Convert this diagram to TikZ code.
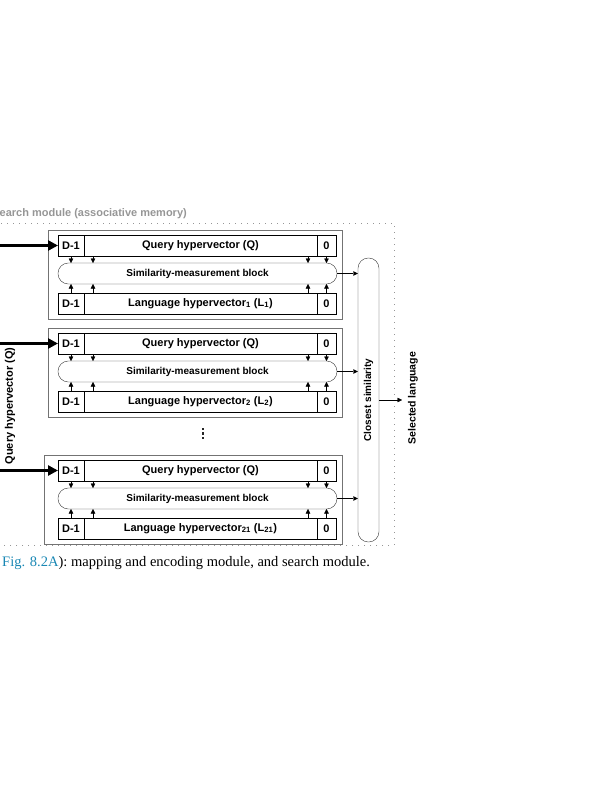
\documentclass[tikz,border=0pt]{standalone}
\usepackage{fontspec}
\setmainfont{Liberation Serif}
\setsansfont{Liberation Sans}
\usetikzlibrary{arrows.meta,positioning}
\definecolor{figblue}{RGB}{25,135,180}
\definecolor{framegray}{RGB}{115,115,115}
\definecolor{titlegray}{RGB}{150,150,150}

\tikzset{
	cell/.style={draw,inner sep=0pt,outer sep=0pt,minimum height=21pt,font=\sffamily\bfseries\fontsize{11}{12}\selectfont},
	simblock/.style={draw=black!80,rounded corners=10.4pt,inner sep=0pt,minimum width=279pt,minimum height=21pt,font=\sffamily\bfseries\fontsize{10}{12}\selectfont},
	tip/.style={-{Triangle[length=4.5pt,width=4.5pt]}},
	bigtip/.style={line width=3pt,-{Triangle[length=10pt,width=10pt]}},
	vlabel/.style={rotate=90,font=\sffamily\bfseries\fontsize{11}{12}\selectfont},
}

\begin{document}
\begin{tikzpicture}[x=1pt,y=-1pt]
	\useasboundingbox (0,0) rectangle (599,800);
	\path
	(-5,223) coordinate (A)
	(394,223) coordinate (B)
	(394,545) coordinate (C)
	(-5,545) coordinate (D)
	(402,400) coordinate (sel);
	\draw[titlegray,dash pattern=on 1pt off 5pt] (A)--(B)--(C)--(D);
	\node[anchor=base east,inner sep=0pt,text=titlegray,font=\sffamily\bfseries\fontsize{11}{12}\selectfont] (title) at (187,216) {earch module (associative memory)};
	\node[draw=black!80,rounded corners=10.4pt,inner sep=0pt,minimum width=21pt,minimum height=284pt] (cs) at (368.5,400) {};
	\node[vlabel,font=\sffamily\bfseries\fontsize{10}{12}\selectfont] (cstext) at (cs) {Closest similarity};
	\draw[tip] (cs.east) -- (sel);
	\node[vlabel,font=\sffamily\bfseries\fontsize{10.5}{12}\selectfont] (seltext) at (413,398) {Selected language};
	\node[vlabel] (qlabel) at (10,406) {Query hypervector (Q)};
	\foreach \t/\k/\n in {230/48/1,328/48/2,455/44/21}{
		\draw[framegray,line width=1pt] (\k,\t) rectangle (342,\t+89);
		\node[cell,minimum width=26pt,anchor=west] (qa\n) at (58,\t+15.5) {D-1};
		\node[cell,minimum width=233pt,right=0pt of qa\n] (qb\n) {Query hypervector (Q)};
		\node[cell,minimum width=19pt,right=0pt of qb\n] (qc\n) {0};
		\node[simblock] (s\n) at (197.5,\t+43.5) {Similarity-measurement block};
		\node[cell,minimum width=26pt,anchor=west] (la\n) at (58,\t+73.5) {D-1};
		\node[cell,minimum width=233pt,right=0pt of la\n] (lb\n) {Language hypervector\textsubscript{\n} (L\textsubscript{\n})};
		\node[cell,minimum width=19pt,right=0pt of lb\n] (lc\n) {0};
		\draw[tip] (qa\n.south) -- ++(0,7);
		\draw[tip] ([xshift=9pt]qb\n.south west) -- ++(0,7);
		\draw[tip] ([xshift=-9pt]qb\n.south east) -- ++(0,7);
		\draw[tip] (qc\n.south) -- ++(0,7);
		\draw[tip] (la\n.north) -- ++(0,-9);
		\draw[tip] ([xshift=9pt]lb\n.north west) -- ++(0,-9);
		\draw[tip] ([xshift=-9pt]lb\n.north east) -- ++(0,-9);
		\draw[tip] (lc\n.north) -- ++(0,-9);
		\draw[tip] (s\n.east) -- (s\n.east -| cs.west);
		\coordinate (in\n) at (-5,\t+15.5);
		\draw[bigtip] (in\n) -- (qa\n.west);
	}
	% vertical dots between the second and the last block
	\foreach \y in {429,433.5,438} \fill[black!85] (203,\y) +(-1.3,-1.3) rectangle +(1.3,1.3);
	\node[anchor=base west,inner sep=0pt,font=\fontsize{14.5}{16}\selectfont] (caption) at (2,566) {\textcolor{figblue}{Fig. 8.2A}): mapping and encoding module, and search module.};
\end{tikzpicture}
\end{document}
